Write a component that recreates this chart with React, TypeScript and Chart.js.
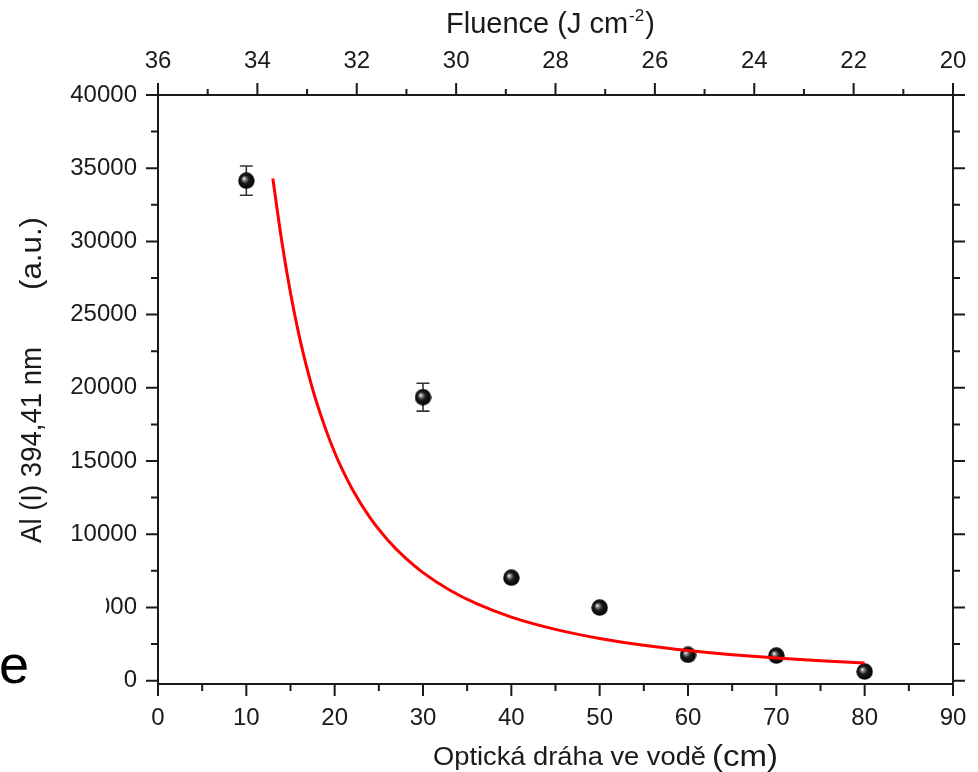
import React, { useEffect, useRef } from "react";
import { Chart, registerables } from "chart.js";

Chart.register(...registerables);

// Measured points: optical path in water (cm) vs Al I 394.41 nm intensity (a.u.)
const pathLength = [10, 30, 40, 50, 60, 70, 80];
const intensity = [34150, 19360, 7030, 4990, 1760, 1710, 620];
const intensityErr = [1000, 950, 0, 0, 0, 0, 0];

// Red fitted curve
const fitX = [13.0, 14, 15, 16, 17, 18, 20, 22, 24, 26, 28, 30, 33, 36, 40, 45, 50, 55, 60, 65, 70, 75, 80];
const fitY = [34300, 30060, 26470, 23500, 21020, 18920, 15580, 13070, 11130, 9610, 8380, 7380, 6190, 5270, 4340, 3500, 2880, 2420, 2060, 1770, 1550, 1360, 1210];

// Tick labels
const xTicks = [0, 10, 20, 30, 40, 50, 60, 70, 80, 90];
const fluenceTicks = [36, 34, 32, 30, 28, 26, 24, 22, 20];
const yTicks = [0, 5000, 10000, 15000, 20000, 25000, 30000, 35000, 40000];

const FONT = "'Liberation Sans', Arial, sans-serif";
const INK = "#1a1a1a";

function makeSphere(d: number) {
  const c = document.createElement("canvas");
  c.width = d;
  c.height = d;
  const g = c.getContext("2d")!;
  const r = d / 2;
  const grad = g.createRadialGradient(r * 0.7, r * 0.75, 0.3, r, r, r);
  grad.addColorStop(0, "#f2f2f2");
  grad.addColorStop(0.18, "#8a8a8a");
  grad.addColorStop(0.45, "#1c1c1c");
  grad.addColorStop(1, "#000000");
  g.fillStyle = grad;
  g.beginPath();
  g.arc(r, r, r - 0.3, 0, Math.PI * 2);
  g.fill();
  return c;
}

function mids(arr: number[]) {
  const out: number[] = [];
  for (let i = 0; i < arr.length - 1; i++) out.push((arr[i] + arr[i + 1]) / 2);
  return out;
}

function fitText(ctx: CanvasRenderingContext2D, text: string, x: number, y: number, width: number) {
  const w = ctx.measureText(text).width;
  ctx.save();
  ctx.translate(x, y);
  ctx.scale(width / w, 1);
  ctx.textAlign = "left";
  ctx.fillText(text, 0, 0);
  ctx.restore();
}

const plainLabel = (v: any) => String(v);

const errorBarPlugin = {
  id: "errorBars",
  beforeDatasetsDraw(chart: any) {
    const ctx = chart.ctx;
    const xs = chart.scales.x;
    const ys = chart.scales.y;
    ctx.save();
    ctx.strokeStyle = "#333";
    ctx.lineWidth = 1.6;
    pathLength.forEach((xv, i) => {
      const e = intensityErr[i];
      if (!e) return;
      const px = xs.getPixelForValue(xv);
      const t = ys.getPixelForValue(intensity[i] + e);
      const b = ys.getPixelForValue(intensity[i] - e);
      ctx.beginPath();
      ctx.moveTo(px, t);
      ctx.lineTo(px, b);
      ctx.moveTo(px - 6.5, t);
      ctx.lineTo(px + 6.5, t);
      ctx.moveTo(px - 6.5, b);
      ctx.lineTo(px + 6.5, b);
      ctx.stroke();
    });
    ctx.restore();
  },
};

const framePlugin = {
  id: "frame",
  afterDraw(chart: any) {
    const ctx: CanvasRenderingContext2D = chart.ctx;
    const { left, right, top, bottom } = chart.chartArea;
    const xs = chart.scales.x;
    const x2 = chart.scales.x2;
    const ys = chart.scales.y;
    ctx.save();
    ctx.strokeStyle = INK;
    ctx.lineWidth = 2;
    ctx.lineCap = "butt";
    ctx.beginPath();
    ctx.rect(left, top, right - left, bottom - top);
    // bottom ticks
    xTicks.forEach((v) => {
      const p = xs.getPixelForValue(v);
      ctx.moveTo(p, bottom);
      ctx.lineTo(p, bottom + 12);
    });
    mids(xTicks).forEach((v) => {
      const p = xs.getPixelForValue(v);
      ctx.moveTo(p, bottom);
      ctx.lineTo(p, bottom + 7);
    });
    // top ticks
    fluenceTicks.forEach((v) => {
      const p = x2.getPixelForValue(v);
      ctx.moveTo(p, top);
      ctx.lineTo(p, top - 12);
    });
    mids(fluenceTicks).forEach((v) => {
      const p = x2.getPixelForValue(v);
      ctx.moveTo(p, top);
      ctx.lineTo(p, top - 6);
    });
    // left and right ticks
    yTicks.forEach((v) => {
      const p = ys.getPixelForValue(v);
      ctx.moveTo(left - 12, p);
      ctx.lineTo(left, p);
      ctx.moveTo(right, p);
      ctx.lineTo(right + 12, p);
    });
    mids(yTicks).forEach((v) => {
      const p = ys.getPixelForValue(v);
      ctx.moveTo(left - 7, p);
      ctx.lineTo(left, p);
      ctx.moveTo(right, p);
      ctx.lineTo(right + 7, p);
    });
    ctx.stroke();

    ctx.fillStyle = INK;
    ctx.textBaseline = "alphabetic";

    // top title with superscript
    ctx.font = `29px ${FONT}`;
    const mainTop = "Fluence (J cm";
    const wMain = ctx.measureText(mainTop).width;
    ctx.textAlign = "left";
    const tx = 446;
    ctx.fillText(mainTop, tx, 33);
    ctx.font = `17px ${FONT}`;
    const sup = "-2";
    const wSup = ctx.measureText(sup).width;
    ctx.fillText(sup, tx + wMain + 1, 21);
    ctx.font = `29px ${FONT}`;
    ctx.fillText(")", tx + wMain + wSup + 2, 33);

    // bottom title
    ctx.font = `25px ${FONT}`;
    fitText(ctx, "Optická dráha ve vodě", 433, 765, 273);
    ctx.font = `30px ${FONT}`;
    fitText(ctx, "(cm)", 712, 766, 66);

    // y title (rotated)
    ctx.font = `30px ${FONT}`;
    ctx.save();
    ctx.translate(41, 543);
    ctx.rotate(-Math.PI / 2);
    fitText(ctx, "Al (I) 394,41 nm", 0, 0, 196);
    ctx.restore();
    ctx.save();
    ctx.translate(41, 290);
    ctx.rotate(-Math.PI / 2);
    fitText(ctx, "(a.u.)", 0, 0, 73);
    ctx.restore();

    // panel label overlapping the 5000 tick label
    const p5 = ys.getPixelForValue(5000);
    ctx.fillStyle = "#ffffff";
    ctx.fillRect(40, p5 - 14, 66, 28);
    ctx.fillStyle = "#000";
    ctx.font = `54px ${FONT}`;
    ctx.textAlign = "left";
    ctx.fillText("e", -1, 683);
    ctx.restore();
  },
};

export default function App() {
  const ref = useRef<HTMLCanvasElement | null>(null);

  useEffect(() => {
    const canvas = ref.current;
    if (!canvas) return;
    const sphere = makeSphere(17);
    const tickFont = { family: FONT, size: 24 };

    const chart = new Chart(canvas, {
      type: "scatter",
      data: {
        datasets: [
          {
            label: "fit",
            data: fitX.map((x, i) => ({ x, y: fitY[i] })),
            showLine: true,
            borderColor: "#ff0000",
            borderWidth: 3,
            pointRadius: 0,
            cubicInterpolationMode: "monotone",
            fill: false,
            order: 0,
            xAxisID: "x",
            yAxisID: "y",
          },
          {
            label: "Al I",
            data: pathLength.map((x, i) => ({ x, y: intensity[i] })),
            showLine: false,
            pointStyle: sphere as any,
            pointRadius: 8.5,
            order: 1,
            xAxisID: "x",
            yAxisID: "y",
          },
        ],
      },
      options: {
        animation: false,
        responsive: false,
        devicePixelRatio: 1,
        layout: { padding: { left: 0, right: 25, top: 0, bottom: 0 } },
        plugins: {
          legend: { display: false },
          tooltip: { enabled: false },
          title: { display: false },
        },
        scales: {
          x: {
            type: "linear",
            position: "bottom",
            min: 0,
            max: 90,
            grid: { display: false, drawTicks: false },
            border: { display: false },
            afterBuildTicks: (s: any) => {
              s.ticks = xTicks.map((v) => ({ value: v }));
            },
            afterFit: (s: any) => {
              s.height = 88;
              s.paddingLeft = 0;
              s.paddingRight = 0;
            },
            ticks: { font: tickFont, color: INK, padding: 20, maxRotation: 0, autoSkip: false, callback: plainLabel },
          },
          x2: {
            type: "linear",
            position: "top",
            min: 20,
            max: 36,
            reverse: true,
            grid: { display: false, drawTicks: false },
            border: { display: false },
            afterBuildTicks: (s: any) => {
              s.ticks = fluenceTicks.map((v) => ({ value: v }));
            },
            afterFit: (s: any) => {
              s.height = 95;
              s.paddingLeft = 0;
              s.paddingRight = 0;
            },
            ticks: { font: tickFont, color: INK, padding: 19, maxRotation: 0, autoSkip: false, callback: plainLabel },
          },
          y: {
            type: "linear",
            position: "left",
            min: -230,
            max: 40000,
            grid: { display: false, drawTicks: false },
            border: { display: false },
            afterBuildTicks: (s: any) => {
              s.ticks = yTicks.map((v) => ({ value: v }));
            },
            afterFit: (s: any) => {
              s.width = 158;
              s.paddingTop = 0;
              s.paddingBottom = 0;
            },
            ticks: { font: tickFont, color: INK, padding: 21, autoSkip: false, callback: plainLabel },
          },
        },
      } as any,
      plugins: [errorBarPlugin, framePlugin],
    });
    return () => chart.destroy();
  }, []);

  return (
    <div style={{ position: "fixed", left: 0, top: 0, width: 978, height: 772, background: "#fff" }}>
      <canvas ref={ref} width={978} height={772} style={{ width: 978, height: 772, display: "block" }} />
    </div>
  );
}
